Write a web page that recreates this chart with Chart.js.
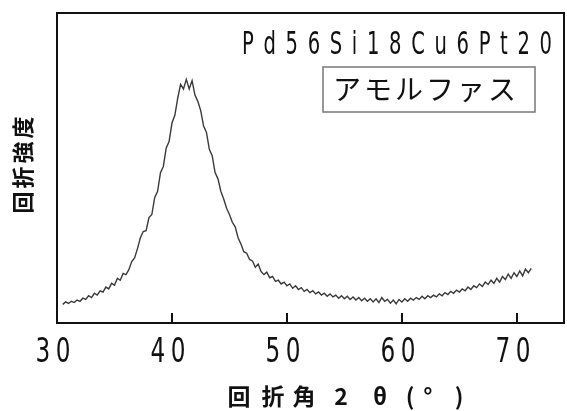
<!DOCTYPE html>
<html>
<head>
<meta charset="utf-8">
<script src="https://cdn.jsdelivr.net/npm/chart.js@4"></script>
<style>
  body { margin: 0; background: #fff; }
</style>
</head>
<body>
<canvas id="xrdChart" width="567" height="411"></canvas>
<script>
// XRD pattern, Pd56Si18Cu6Pt20 (amorphous)

// scan start / step (degrees 2θ)
const startAngle = 30.5;
const angleStep = 0.25;

// diffraction intensity (arb. units, 0-100 = plot height)
const intensity = [
    6.0, 6.8, 6.3, 7.0,
    6.6, 7.4, 7.0, 8.0,
    7.6, 8.8, 8.2, 9.6,
    9.0, 10.4, 10.0, 11.6,
    11.0, 12.8, 12.2, 14.4,
    13.8, 16.0, 15.6, 17.2,
    19.8, 21.0, 24.0, 27.5,
    29.5, 29.8, 34.0, 35.0,
    40.5, 42.5, 48.5, 50.5,
    56.5, 58.5, 64.5, 67.0,
    72.5, 77.0, 75.5, 78.6,
    75.5, 78.2, 73.5, 71.5,
    68.5, 63.5, 61.5, 56.0,
    54.0, 48.5, 46.5, 42.5,
    40.0, 37.0, 35.0, 32.5,
    31.0, 27.5, 25.5, 23.0,
    22.5, 20.5, 20.0, 18.0,
    19.0, 16.6, 15.6, 16.4,
    14.6, 15.0, 13.4, 13.8,
    12.6, 13.2, 12.0, 12.6,
    11.2, 12.0, 10.8, 11.4,
    10.2, 10.8, 9.8, 10.4,
    9.4, 10.0, 9.0, 9.6,
    8.6, 9.4, 8.4, 9.0,
    8.0, 8.8, 7.8, 8.6,
    7.6, 8.4, 7.4, 8.2,
    7.2, 8.0, 7.0, 7.8,
    6.8, 7.8, 6.6, 8.2,
    7.0, 7.6, 6.4, 7.4,
    6.2, 7.6, 6.8, 7.8,
    7.0, 8.0, 7.4, 8.2,
    7.6, 8.6, 7.8, 8.8,
    8.2, 9.0, 8.4, 9.4,
    8.8, 9.8, 9.2, 10.2,
    9.6, 10.6, 10.0, 11.0,
    10.4, 11.6, 10.8, 12.0,
    11.4, 12.6, 11.8, 13.2,
    12.4, 13.8, 12.8, 14.4,
    13.2, 15.0, 14.0, 15.8,
    14.4, 16.2, 15.0, 16.8,
    15.2, 17.4, 16.2, 17.6
];

const xTicks = [30, 40, 50, 60, 70];

const sampleLabel = 'Pd56Si18Cu6Pt20';
const phaseLabel = 'アモルファス';
const yTitle = '回折強度';
const xTitleParts = ['回', '折', '角', '2', 'θ', '(', '°', ')'];

const points = intensity.map((v, i) => ({ x: startAngle + i * angleStep, y: v }));

const condensed = '"DejaVu Sans Condensed", "DejaVu Sans", sans-serif';
const cjk = '"Noto Sans CJK JP", sans-serif';

// draws a narrow, spaced-out string centred on x
function narrowText(ctx, text, x, y, sx, spacing) {
    ctx.save();
    ctx.letterSpacing = spacing + 'px';
    const w = ctx.measureText(text).width - spacing;
    ctx.translate(x - w * sx / 2, y);
    ctx.scale(sx, 1);
    ctx.textAlign = 'left';
    ctx.fillText(text, 0, 0);
    ctx.restore();
}

const decorPlugin = {
    id: 'decor',
    afterDraw(chart) {
        const ctx = chart.ctx;
        const a = chart.chartArea;
        const xs = chart.scales.x;

        ctx.save();
        // frame
        ctx.strokeStyle = '#111';
        ctx.lineWidth = 2;
        ctx.strokeRect(a.left, a.top, a.right - a.left, a.bottom - a.top);

        // inward ticks + narrow tick labels from the x scale
        ctx.fillStyle = '#111';
        ctx.font = '33px ' + condensed;
        ctx.textBaseline = 'alphabetic';
        xs.ticks.forEach(t => {
            const px = Math.round(xs.getPixelForValue(t.value));
            if (t.value !== xs.min) {
                ctx.beginPath();
                ctx.moveTo(px, a.bottom);
                ctx.lineTo(px, a.bottom - 10);
                ctx.stroke();
            }
            narrowText(ctx, String(t.value), px - 4, 362, 0.78, 7);
        });

        // sample name, spread over 242..552
        ctx.font = '32px ' + condensed;
        ctx.textBaseline = 'middle';
        ctx.textAlign = 'left';
        ctx.letterSpacing = '0px';
        const sx = 0.68;
        const w = ctx.measureText(sampleLabel).width;
        const gap = (310 / sx - w) / (sampleLabel.length - 1);
        ctx.letterSpacing = gap + 'px';
        ctx.save();
        ctx.translate(242, 46);
        ctx.scale(sx, 1);
        ctx.fillText(sampleLabel, 0, 0);
        ctx.restore();

        // phase box
        ctx.letterSpacing = '0px';
        ctx.strokeStyle = '#777';
        ctx.lineWidth = 1.5;
        ctx.strokeRect(323, 67, 212, 45);
        ctx.font = '28px ' + cjk;
        ctx.letterSpacing = '3px';
        ctx.fillText(phaseLabel, 333, 89);

        // y title
        ctx.save();
        ctx.translate(23, 165);
        ctx.rotate(-Math.PI / 2);
        ctx.font = 'bold 22px ' + cjk;
        ctx.textAlign = 'center';
        ctx.letterSpacing = '3px';
        ctx.fillText(yTitle, 1.5, 0);
        ctx.restore();

        // x title
        ctx.font = 'bold 23px ' + cjk;
        ctx.textAlign = 'center';
        ctx.letterSpacing = '0px';
        const cx = [239, 273, 304, 341, 380, 410, 428, 459];
        xTitleParts.forEach((c, i) => {
            ctx.fillText(c, cx[i], 396);
        });
        ctx.restore();
    }
};

new Chart(document.getElementById('xrdChart'), {
    type: 'line',
    data: {
        datasets: [{
            data: points,
            borderColor: '#3a3a3a',
            borderWidth: 1.4,
            pointRadius: 0,
            tension: 0,
            fill: false
        }]
    },
    options: {
        responsive: false,
        animation: false,
        layout: { padding: { left: 57, right: 3, top: 13, bottom: 0 } },
        plugins: {
            legend: { display: false },
            tooltip: { enabled: false }
        },
        scales: {
            x: {
                type: 'linear',
                min: 30,
                max: 74.1,
                afterBuildTicks(scale) {
                    scale.ticks = xTicks.map(v => ({ value: v }));
                },
                afterFit(scale) { scale.height = 88; },
                grid: { display: false },
                border: { display: false },
                ticks: { display: false }
            },
            y: {
                display: false,
                min: 0,
                max: 100
            }
        }
    },
    plugins: [decorPlugin]
});
</script>
</body>
</html>
